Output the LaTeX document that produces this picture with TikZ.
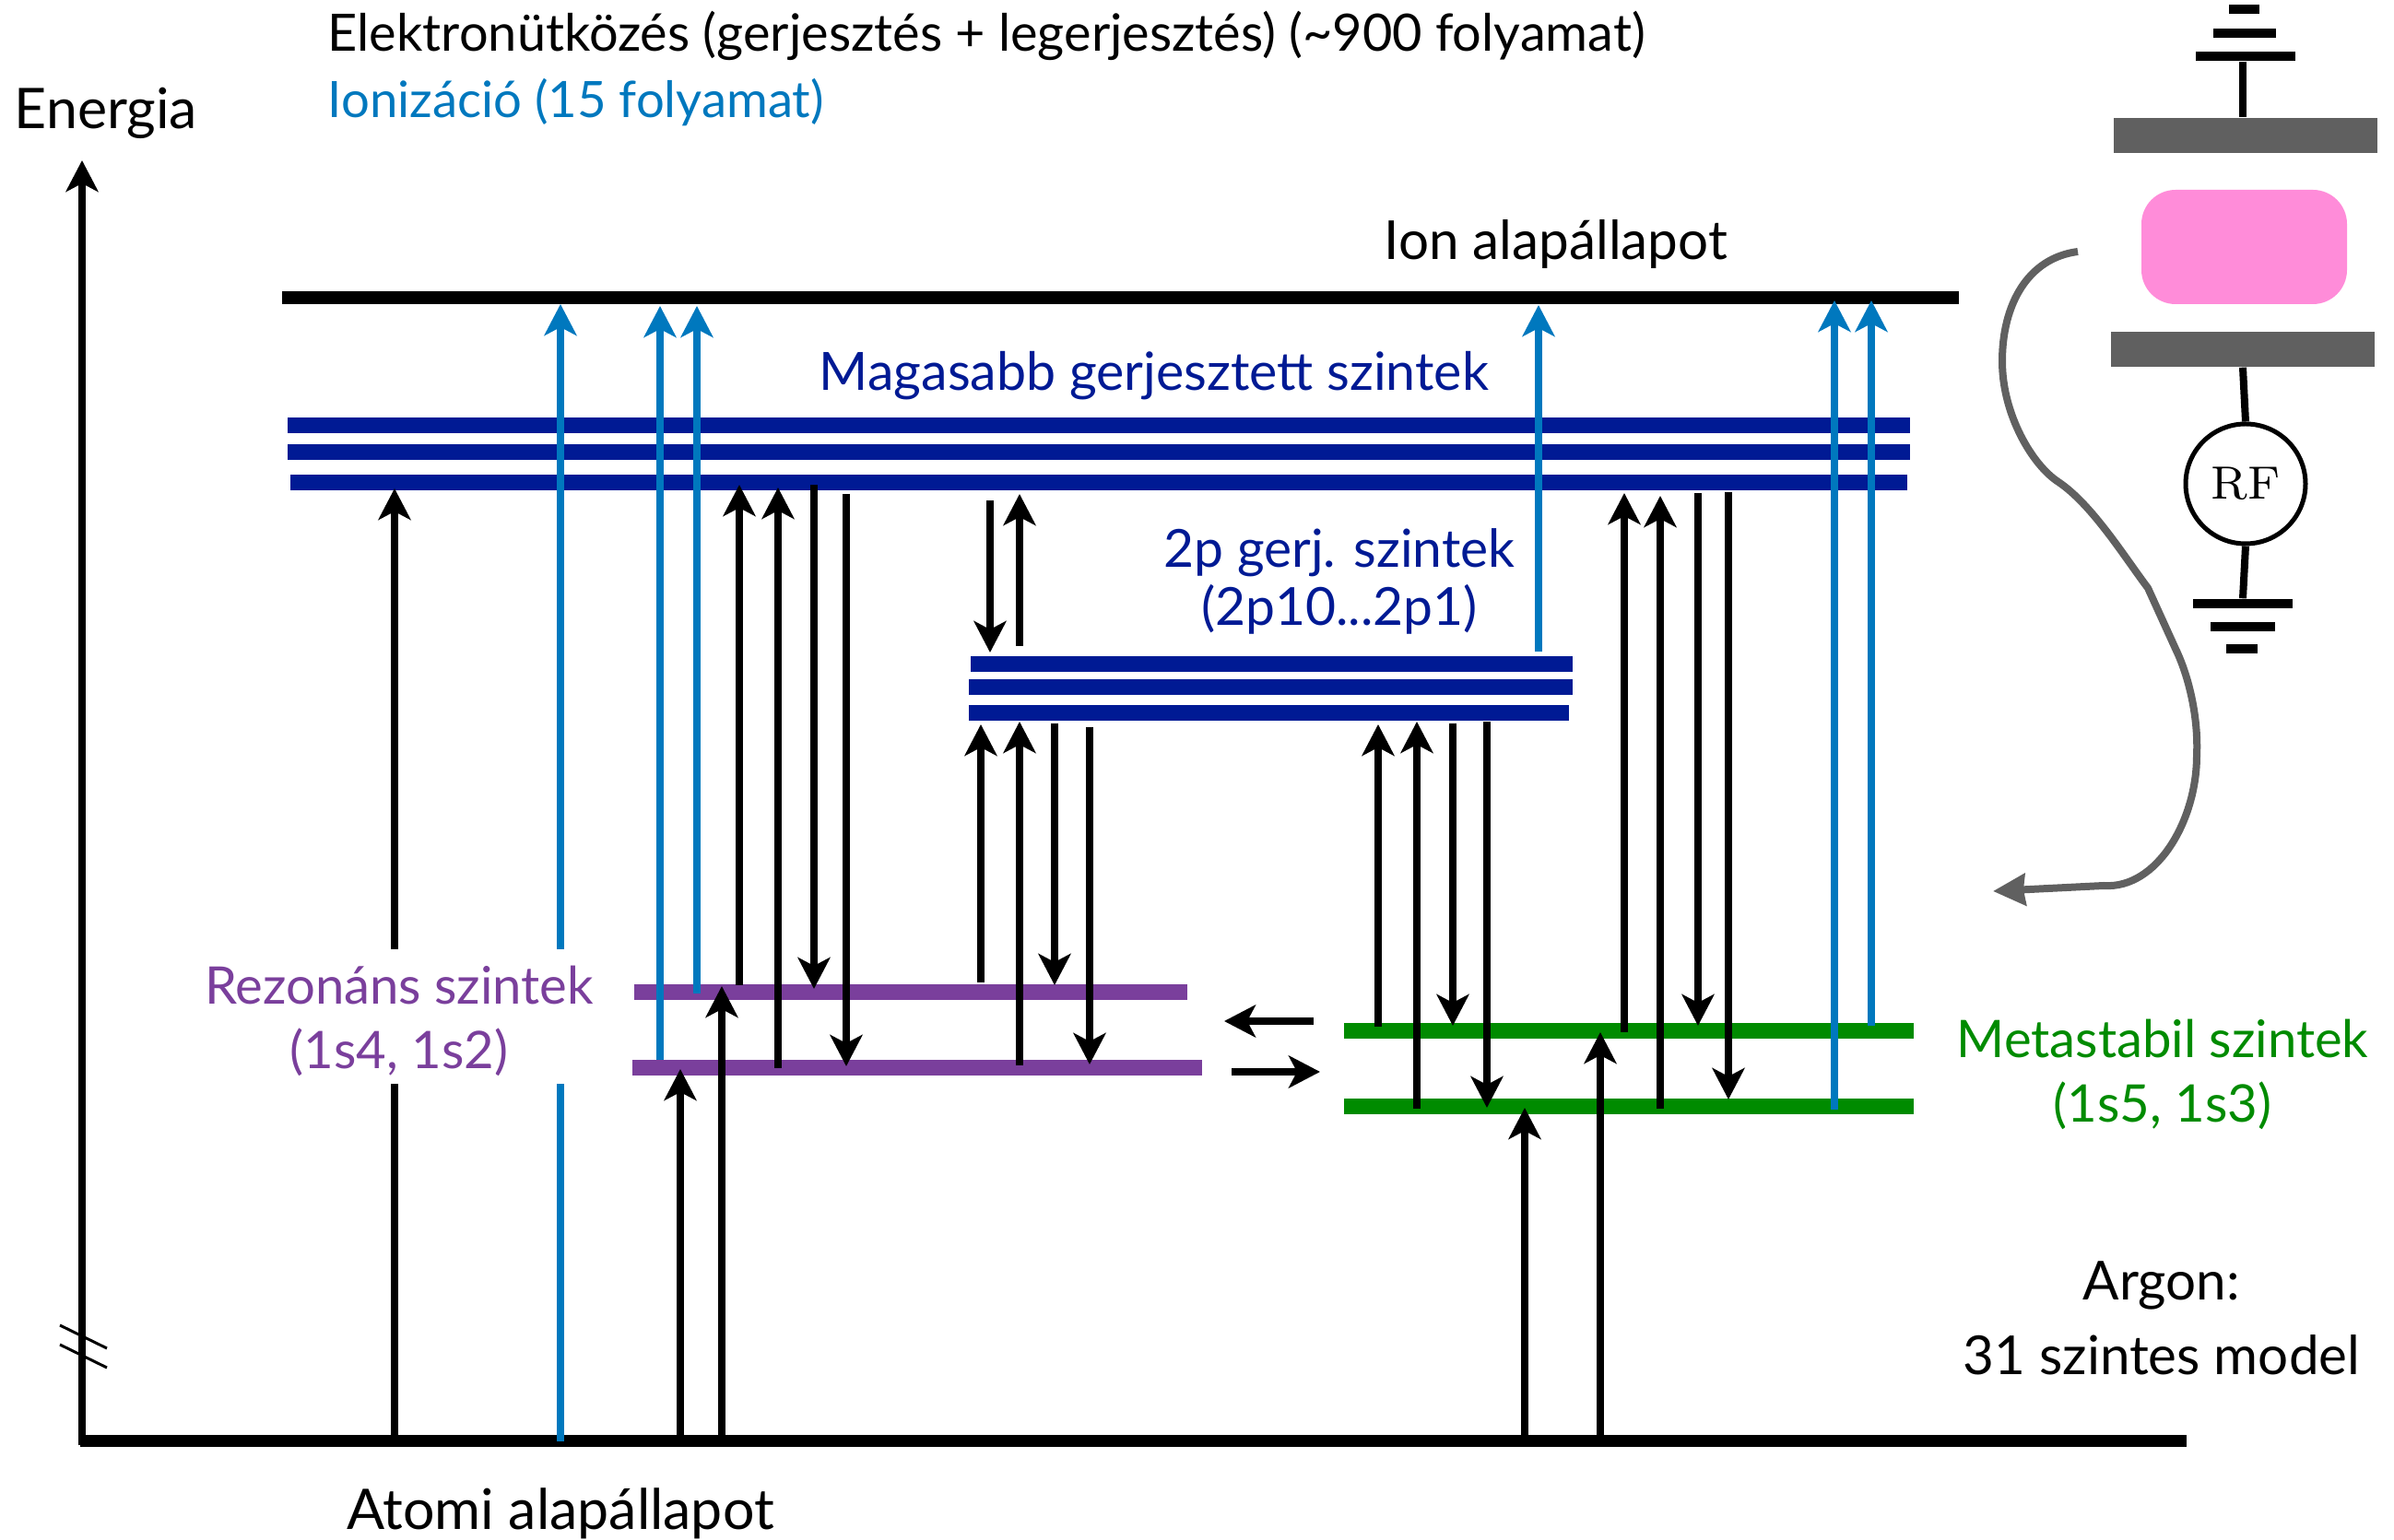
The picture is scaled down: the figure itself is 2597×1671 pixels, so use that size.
\documentclass[tikz,border=0pt]{standalone}
\usepackage{fontspec}
\usepackage{xcolor}
\usetikzlibrary{arrows.meta}
\newfontfamily\labelfont{Lato}
\definecolor{levnavy}{HTML}{001A94}
\definecolor{ionblue}{HTML}{0078BE}
\definecolor{respurple}{HTML}{7A3F9C}
\definecolor{metagreen}{HTML}{008B00}
\definecolor{plategray}{HTML}{606060}
\definecolor{plasmapink}{HTML}{FF8CD9}
\begin{document}
\begin{tikzpicture}[x=.1mm,y=-.1mm,
lev/.style={inner sep=0pt,minimum height=1.7mm},
bar/.style={inner sep=0pt,fill=black,minimum height=1mm},
arr/.style={-{Stealth[length=3.4mm,width=3.5mm,inset=.9mm]},line width=.85mm},
ion/.style={arr,draw=ionblue,-{Stealth[length=3.4mm,width=3.5mm,inset=.9mm,fill=ionblue]}},
wire/.style={line width=.8mm},
lab/.style={font=\labelfont\fontsize{#1}{20}\selectfont,inner sep=0pt,align=center},
lab/.default=16]
\useasboundingbox (0,0) rectangle (2597,1671);
% energy levels
\node[lev,fill=black,minimum height=1.3mm,minimum width=228.5mm] (gnd) at (1229,1564) {};
\node[lev,fill=black,minimum height=1.45mm,minimum width=181.9mm] (ion) at (1215.5,323) {};
\node[lev,fill=levnavy,minimum width=176mm] (ha) at (1192,462) {};
\node[lev,fill=levnavy,minimum width=176mm] (hb) at (1192,491) {};
\node[lev,fill=levnavy,minimum width=175.4mm] (hc) at (1192,524) {};
\node[lev,fill=levnavy,minimum width=65.3mm] (pa) at (1379.5,721) {};
\node[lev,fill=levnavy,minimum width=65.5mm] (pb) at (1378.5,746) {};
\node[lev,fill=levnavy,minimum width=65.1mm] (pc) at (1376.5,774) {};
\node[lev,fill=respurple,minimum width=60mm] (ra) at (988,1077) {};
\node[lev,fill=respurple,minimum width=61.8mm] (rb) at (995,1159) {};
\node[lev,fill=metagreen,minimum width=61.8mm] (ma) at (1767,1119) {};
\node[lev,fill=metagreen,minimum width=61.8mm] (mb) at (1767,1201) {};
% energy axis
\coordinate (axbot) at (89,1568); \coordinate (axtop) at (89,174);
\draw[arr] (axbot)--(axtop);
\draw[line width=.3mm] (65,1438)--(116,1463); \draw[line width=.3mm] (65,1459)--(116,1484);
% from the ground state
\draw[arr] (428,0 |- gnd)--([yshift=-.6mm]428,0 |- hc); \draw[arr] (738,0 |- gnd)--([yshift=-.1mm]738,0 |- rb);
\draw[arr] (783,0 |- gnd)--([yshift=.7mm]783,0 |- ra); \draw[arr] (1654,0 |- gnd)--([yshift=-.1mm]1654,0 |- mb);
\draw[arr] (1736,0 |- gnd)--([yshift=-.1mm]1736,0 |- ma);
% resonant <-> higher
\draw[arr] ([yshift=.8mm]802,0 |- ra)--([yshift=-.2mm]802,0 |- hc); \draw[arr] (844,0 |- rb)--([yshift=-.5mm]844,0 |- hc);
\draw[arr] ([yshift=-.2mm]883,0 |- hc)--([yshift=.4mm]883,0 |- ra); \draw[arr] ([yshift=-1.2mm]918,0 |- hc)--([yshift=.2mm]918,0 |- rb);
% 2p <-> higher
\draw[arr] ([yshift=-1.9mm]1074,0 |- hc)--([yshift=1.3mm]1074,0 |- pa); \draw[arr] ([yshift=2mm]1106,0 |- pa)--([yshift=-1.2mm]1106,0 |- hc);
% resonant <-> 2p
\draw[arr] ([yshift=1.1mm]1064,0 |- ra)--([yshift=-1.2mm]1064,0 |- pc); \draw[arr] ([yshift=.3mm]1106,0 |- rb)--([yshift=-.9mm]1106,0 |- pc);
\draw[arr] ([yshift=-1.1mm]1144,0 |- pc)--([yshift=.8mm]1144,0 |- ra); \draw[arr] ([yshift=-1.5mm]1182,0 |- pc)--([yshift=.4mm]1182,0 |- rb);
% metastable <-> 2p
\draw[arr] ([yshift=.5mm]1495,0 |- ma)--([yshift=-1.2mm]1495,0 |- pc); \draw[arr] ([yshift=-.2mm]1537,0 |- mb)--([yshift=-.9mm]1537,0 |- pc);
\draw[arr] ([yshift=-1.1mm]1576,0 |- pc)--([yshift=.6mm]1576,0 |- ma); \draw[arr] ([yshift=-.9mm]1613,0 |- pc)--([yshift=-.1mm]1613,0 |- mb);
% metastable <-> higher
\draw[arr] ([yshift=-.1mm]1762,0 |- ma)--([yshift=-1.1mm]1762,0 |- hc); \draw[arr] ([yshift=-.2mm]1801,0 |- mb)--([yshift=-1.4mm]1801,0 |- hc);
\draw[arr] ([yshift=-1.1mm]1842,0 |- hc)--([yshift=.6mm]1842,0 |- ma); \draw[arr] ([yshift=-1mm]1875,0 |- hc)--([yshift=.8mm]1875,0 |- mb);
% resonant <-> metastable
\coordinate (xa) at (1425,1108); \coordinate (xb) at (1328,1108); \coordinate (xc) at (1336,1163); \coordinate (xd) at (1432,1163);
\draw[arr] (xa)--(xb); \draw[arr] (xc)--(xd);
% ionisation
\draw[ion] (608,0 |- gnd)--([yshift=-.7mm]608,0 |- ion); \draw[ion] ([yshift=.9mm]716,0 |- rb)--([yshift=-.9mm]716,0 |- ion);
\draw[ion] ([yshift=-.1mm]756,0 |- ra)--([yshift=-.9mm]756,0 |- ion); \draw[ion] ([yshift=1.4mm]1669,0 |- pa)--([yshift=-.8mm]1669,0 |- ion);
\draw[ion] ([yshift=-.3mm]1990,0 |- mb)--([yshift=-.3mm]1990,0 |- ion); \draw[ion] ([yshift=.6mm]2030,0 |- ma)--([yshift=-.3mm]2030,0 |- ion);
% reactor
\node[bar,minimum width=10.8mm] (gta) at (2436,61) {}; \node[bar,minimum width=6.8mm] (gtb) at (2435,36) {}; \node[bar,minimum width=3.3mm] (gtc) at (2434,10) {};
\node[inner sep=0pt,fill=plategray,minimum width=28.6mm,minimum height=3.8mm] (topplate) at (2436,147) {};
\node[inner sep=0pt,fill=plasmapink,rounded corners=3.7mm,minimum width=22.3mm,minimum height=12.4mm] (plasma) at (2434.5,268) {};
\node[inner sep=0pt,fill=plategray,minimum width=28.6mm,minimum height=3.8mm] (botplate) at (2433,379) {};
\node[circle,draw,line width=.5mm,minimum size=13mm,inner sep=0pt] (rf) at (2436,525) {\scalebox{1.8}{\fontsize{8}{8}\selectfont RF}};
\node[bar,minimum width=10.8mm] (gba) at (2433,655) {}; \node[bar,minimum width=7mm] (gbb) at (2433,680) {}; \node[bar,minimum width=3.4mm] (gbc) at (2432,704) {};
\draw[wire] ([xshift=-.3mm]gta.south)--([xshift=-.3mm]topplate.north);
\draw[wire] (botplate.south)--(rf.north); \draw[wire] (rf.south)--(gba.north);
\coordinate (cstart) at (2254,273); \coordinate (cend) at (2162,967);
\draw[line width=.8mm,draw=plategray,-{Stealth[length=3.5mm,width=3.4mm,inset=.2mm,fill=plategray]}] (cstart) .. controls (2200,280) and (2172,330) .. (2172,392)
 .. controls (2172,450) and (2205,505) .. (2233,523) .. controls (2270,548) and (2305,605) .. (2330,638)
 -- (2360,704) .. controls (2375,735) and (2385,780) .. (2383,820) .. controls (2383,890) and (2340,965) .. (2282,961) -- (cend);
% labels
\node[lab=17.3,anchor=base] (energia) at (115,140) {Energia};
\node[lab=15.9,anchor=base west] (eleg) at (355,56) {Elektronütközés (gerjesztés + legerjesztés) (\textasciitilde 900 folyamat)};
\node[lab=15.5,anchor=base west,text=ionblue] (ioniz) at (355,128) {Ionizáció (15 folyamat)};
\node[lab=16.6,anchor=base] (ionlab) at (1688,282) {Ion alapállapot};
\node[lab=16.3,anchor=base,text=levnavy] (highlab) at (1252,424) {Magasabb gerjesztett szintek};
\node[lab,text=levnavy,font=\labelfont\fontsize{16.2}{18}\selectfont] (plab) at (1453,631) {2p gerj. szintek\\(2p10...2p1)};
\node[lab,text=respurple,fill=white,minimum height=14.6mm,minimum width=41.8mm] (reslab) at (433,1103) {\rule{0pt}{5.1mm}Rezonáns szintek\\(1s4, 1s2)};
\node[lab,text=metagreen] (metalab) at (2346,1166) {Metastabil szintek\\(1s5, 1s3)};
\node[lab=16.6,font=\labelfont\fontsize{16.6}{23}\selectfont] (arlab) at (2345,1430) {Argon:\\31 szintes model};
\node[lab=17.3,anchor=base] (atomlab) at (608,1660) {Atomi alapállapot};
\end{tikzpicture}
\end{document}
